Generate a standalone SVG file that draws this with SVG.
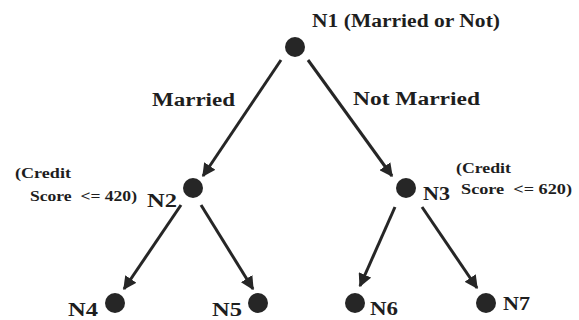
<svg xmlns="http://www.w3.org/2000/svg" width="579" height="320" viewBox="0 0 579 320">
<defs>
<marker id="ah" viewBox="0 0 10 10" refX="9" refY="5" markerWidth="4.5" markerHeight="4.5" markerUnits="strokeWidth" orient="auto">
<path d="M0,0 L10,5 L0,10 z" fill="#262626"/>
</marker>
<style>
.n{fill:#262626}
.e{stroke:#262626;stroke-width:3;fill:none;marker-end:url(#ah)}
.t{font-family:"Liberation Serif","Times New Roman",serif;font-weight:bold;fill:#1e1e1e}
.b{font-size:18px}
.s{font-size:14px}
</style>
</defs>
<rect width="579" height="320" fill="#ffffff"/>
<g id="connectors">
<line class="e" x1="281" y1="60" x2="203" y2="176"/>
<line class="e" x1="308" y1="60" x2="392" y2="176"/>
<line class="e" x1="181" y1="205" x2="124" y2="289"/>
<line class="e" x1="201" y1="205" x2="253" y2="289"/>
<line class="e" x1="395" y1="207" x2="360" y2="286"/>
<line class="e" x1="422" y1="207" x2="477" y2="288"/>
</g>
<g id="N1">
<circle class="n" cx="295" cy="47" r="10"/>
<text class="t b" x="312" y="27" textLength="188" lengthAdjust="spacingAndGlyphs">N1 (Married or Not)</text>
</g>
<g id="edge-labels">
<text class="t b" x="152" y="106" textLength="83" lengthAdjust="spacingAndGlyphs">Married</text>
<text class="t b" x="353" y="105" textLength="127" lengthAdjust="spacingAndGlyphs">Not Married</text>
</g>
<g id="N2">
<circle class="n" cx="193" cy="188" r="10"/>
<text class="t b" x="147" y="207" textLength="30" lengthAdjust="spacingAndGlyphs">N2</text>
<text class="t s" x="15" y="178" textLength="56" lengthAdjust="spacingAndGlyphs">(Credit</text>
<text class="t s" x="30" y="201" xml:space="preserve" textLength="107" lengthAdjust="spacingAndGlyphs">Score  &lt;= 420)</text>
</g>
<g id="N3">
<circle class="n" cx="406" cy="188" r="10"/>
<text class="t b" x="423" y="200" textLength="27" lengthAdjust="spacingAndGlyphs">N3</text>
<text class="t s" x="456" y="173" textLength="55" lengthAdjust="spacingAndGlyphs">(Credit</text>
<text class="t s" x="461" y="194" xml:space="preserve" textLength="111" lengthAdjust="spacingAndGlyphs">Score  &lt;= 620)</text>
</g>
<g id="N4">
<circle class="n" cx="115" cy="303" r="10"/>
<text class="t b" x="68" y="316" textLength="30" lengthAdjust="spacingAndGlyphs">N4</text>
</g>
<g id="N5">
<circle class="n" cx="258" cy="303" r="10"/>
<text class="t b" x="212" y="316" textLength="30" lengthAdjust="spacingAndGlyphs">N5</text>
</g>
<g id="N6">
<circle class="n" cx="355" cy="303" r="10"/>
<text class="t b" x="370" y="315" textLength="28" lengthAdjust="spacingAndGlyphs">N6</text>
</g>
<g id="N7">
<circle class="n" cx="486" cy="303" r="10"/>
<text class="t b" x="503" y="310" textLength="27" lengthAdjust="spacingAndGlyphs">N7</text>
</g>
</svg>
